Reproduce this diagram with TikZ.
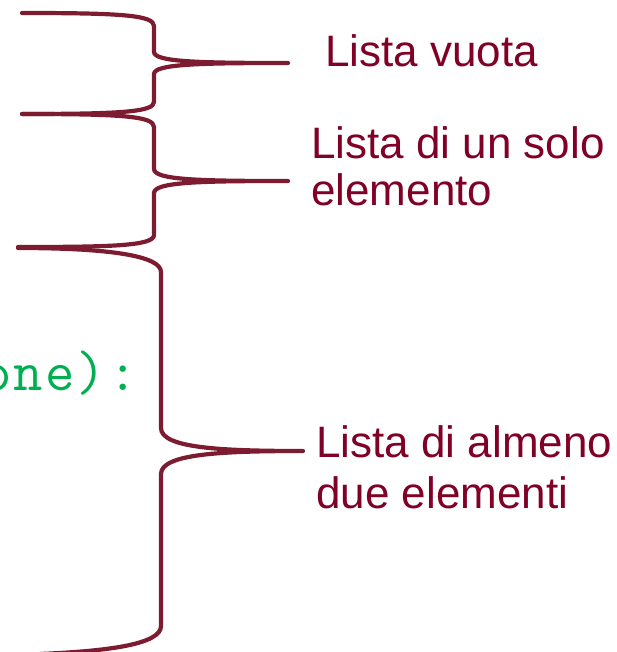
\documentclass[tikz,border=0pt]{standalone}
\usepackage{fontspec}
\setmainfont{Liberation Sans}
\definecolor{bracecol}{RGB}{125,28,48}
\definecolor{labelcol}{RGB}{128,0,38}
\definecolor{codegreen}{RGB}{0,176,80}
\newcommand{\cc}[1]{\makebox[31.5pt]{#1}}
\begin{document}
\begin{tikzpicture}[x=1pt,y=-1pt,
  bracepath/.style={draw=bracecol,line width=4.2pt,line join=round,line cap=round},
  lbl/.style={text=labelcol,font=\fontsize{44}{46}\selectfont,inner sep=0pt,anchor=base west},
  code/.style={text=codegreen,font=\ttfamily\fontsize{57}{60}\selectfont,inner sep=0pt,anchor=base west}]
\useasboundingbox (0,0) rectangle (617,652);
\begin{scope}
\clip (0,0) rectangle (617,652);
% brace 1
\coordinate (b1t) at (22,13);
\coordinate (b1tip) at (288,63);
\coordinate (b1b) at (22,114);
\draw[bracepath] (b1t) .. controls (120,13) and (154,15) .. (154,26) -- (154,52)
  .. controls (154,62) and (200,63) .. (b1tip)
  .. controls (200,63) and (154,64) .. (154,74) -- (154,102)
  .. controls (154,112) and (120,114) .. (b1b);
% brace 2
\coordinate (b2t) at (22,114);
\coordinate (b2tip) at (288,181);
\coordinate (b2b) at (18,247);
\draw[bracepath] (b2t) .. controls (120,114) and (154,116) .. (154,127) -- (154,169)
  .. controls (154,180) and (200,181) .. (b2tip)
  .. controls (200,181) and (154,182) .. (154,193) -- (154,235)
  .. controls (154,246) and (110,247) .. (b2b);
% brace 3
\coordinate (b3t) at (18,248);
\coordinate (b3tip) at (303,451);
\coordinate (b3b) at (40,654);
\draw[bracepath] (b3t) .. controls (110,248) and (161,256) .. (161,272) -- (161,428)
  .. controls (161,448) and (220,451) .. (b3tip)
  .. controls (220,451) and (161,454) .. (161,474) -- (161,626)
  .. controls (161,644) and (110,651) .. (b3b);
% code fragment
\node[code] (codeline) at (-19,390) {\cc{o}\cc{n}\cc{e}\cc{)}\cc{:}};
\end{scope}
% labels
\node[lbl] (l1) at (325,67) {Lista vuota};
\node[lbl] (l2a) at (311,159) {Lista di un solo};
\node[lbl] (l2b) at (311,205) {elemento};
\node[lbl] (l3a) at (316,457) {Lista di almeno};
\node[lbl] (l3b) at (316,508) {due elementi};
\end{tikzpicture}
\end{document}
